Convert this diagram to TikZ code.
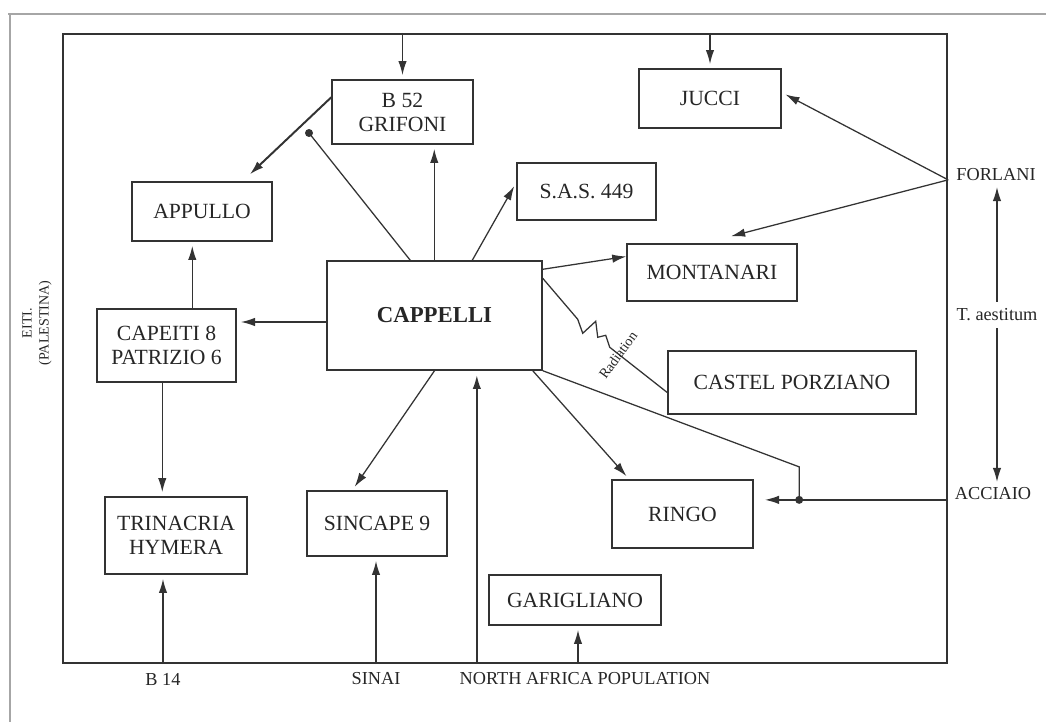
\documentclass[tikz,border=0pt]{standalone}
\usepackage{fontspec}
\setmainfont{Liberation Serif}
\usepackage{tikz}
\usetikzlibrary{calc}
\usetikzlibrary{arrows.meta}

\begin{document}
\begin{tikzpicture}[
        x=0.025cm,
        y=-0.025cm,
        >={Latex[length=10pt,width=6pt]},
        box/.style={draw=black!80, line width=1pt, align=center, inner sep=0pt, text=black!85,
            font=\fontsize{15.4}{17}\selectfont},
        lbl/.style={inner sep=1pt, text=black!85, font=\fontsize{13}{15}\selectfont},
        arr/.style={->, draw=black!80, line width=0.9pt, shorten >=3pt},
        ln/.style={draw=black!80, line width=0.9pt},
        thk/.style={line width=1.4pt}
    ]
        \useasboundingbox (0,0) rectangle (1046,722);

        % page edge
        \draw[gray!70, line width=0.8pt] (8,14) -- (1046,14) (10,14) -- (10,722);

        \node[draw=black!80, line width=1.5pt, minimum width=22.1cm, minimum height=15.725cm, inner sep=0pt] (frame) at (505,348.5) {};

        \node[box, minimum width=3.525cm, minimum height=1.6cm] (b52) at (402.5,112) {B 52\\GRIFONI};
        \node[box, minimum width=3.55cm, minimum height=1.475cm] (jucci) at (710,98.5) {JUCCI};
        \node[box, minimum width=3.5cm, minimum height=1.475cm] (appullo) at (202,211.5) {APPULLO};
        \node[box, minimum width=3.475cm, minimum height=1.425cm] (sas) at (586.5,191.5) {S.A.S. 449};
        \node[box, minimum width=4.25cm, minimum height=1.425cm] (montanari) at (712,272.5) {MONTANARI};
        \node[box, minimum width=5.375cm, minimum height=2.725cm, font=\fontsize{16.2}{18}\selectfont\bfseries] (cappelli) at (434.5,315.5) {CAPPELLI};
        \node[box, minimum width=3.475cm, minimum height=1.825cm] (capeiti) at (166.5,345.5) {CAPEITI 8\\PATRIZIO 6};
        \node[box, minimum width=6.2cm, minimum height=1.575cm] (castel) at (792,382.5) {CASTEL PORZIANO};
        \node[box, minimum width=3.55cm, minimum height=1.925cm] (trinacria) at (176,535.5) {TRINACRIA\\HYMERA};
        \node[box, minimum width=3.5cm, minimum height=1.625cm] (sincape) at (377,523.5) {SINCAPE 9};
        \node[box, minimum width=3.525cm, minimum height=1.7cm] (ringo) at (682.5,514) {RINGO};
        \node[box, minimum width=4.3cm, minimum height=1.25cm] (garigliano) at (575,600) {GARIGLIANO};

        \node[lbl] (forlani) at (996,175) {FORLANI};
        \node[lbl] (taest) at (997,315) {T. aestitum};
        \node[lbl] (acciaio) at (993,494) {ACCIAIO};
        \node[lbl] (b14) at (163,679) {B 14};
        \node[lbl] (sinai) at (376,679) {SINAI};
        \node[lbl] (napop) at (585,679) {NORTH AFRICA POPULATION};
        \node[lbl, rotate=90, align=center, font=\fontsize{10}{12}\selectfont] (eiti) at (37,323) {EITI.\\(PALESTINA)};

        \coordinate (forl) at ($(frame.north east)+(0,147)$);
        \coordinate (acc) at ($(frame.north east)+(0,467)$);
        \coordinate (dotr) at ($(acc)+(-149,0)$);
        \coordinate (bend) at ($(dotr)+(0,-33)$);
        \coordinate (dotb) at (309,133);
        \coordinate (na) at ($(frame.south west)+(415,0)$);
        \coordinate (ga) at ($(garigliano.south)+(3,0)$);

        \draw[arr] (frame.north -| b52.north) -- (b52.north);
        \draw[arr] (frame.north -| jucci.north) -- (jucci.north);

        \draw[arr, thk] ($(b52.north west)+(0,18)$) -- ($(appullo.north east)+(-26,-4)$);
        \draw[ln] ($(cappelli.north west)+(84,0)$) -- (dotb);
        \fill[black!80] (dotb) circle (4);
        \draw[arr] ($(cappelli.north west)+(108,0)$) coordinate (c1) -- (c1 |- b52.south);
        \draw[arr] ($(cappelli.north west)+(146,0)$) -- ($(sas.west)+(0,-9)$);
        \draw[arr, shorten >=0pt] ($(cappelli.north east)+(0,9)$) -- ($(montanari.west)+(0,-16)$);

        \draw[arr] ($(cappelli.west)+(0,6.5)$) coordinate (c4) -- (c4 -| capeiti.east);
        \draw[arr] ($(capeiti.north west)+(96,0)$) coordinate (c5) -- (c5 |- appullo.south);
        \draw[arr] ($(capeiti.south west)+(66,0)$) coordinate (c6) -- (c6 |- trinacria.north);
        \draw[arr] (cappelli.south) -- ($(sincape.north west)+(46,0)$);
        \draw[arr] ($(cappelli.south east)+(-10,0)$) -- ($(ringo.north west)+(18,0)$);

        \draw[arr] (b14 |- frame.south) -- (b14 |- trinacria.south);
        \draw[arr] (sinai |- frame.south) -- (sinai |- sincape.south);
        \draw[arr, thk] (na) -- (na |- cappelli.south);
        \draw[arr] (ga |- frame.south) -- (ga);

        \draw[arr] (forl) -- ($(jucci.east)+(0,-6)$);
        \draw[arr] (forl) -- ($(montanari.north)+(15,-6)$);

        \draw[ln] ($(cappelli.north east)+(0,18)$) -- ++(35,41) -- ++(5,14) -- ++(13,-12) -- ++(2,16) -- ++(8,-2) -- ++(4,12) -- ($(castel.west)+(0,10)$);
        \node[rotate=54, inner sep=0pt, text=black!85, font=\fontsize{10}{11}\selectfont] (rad) at (618,355) {Radiation};

        \draw[ln] (cappelli.south east) -- (bend) -- (dotr);
        \draw[arr, shorten >=8pt] (acc) -- (dotr) -- (dotr -| ringo.east);
        \fill[black!80] (dotr) circle (4);

        \draw[arr, shorten <=4pt] (taest.north) -- (taest.north |- forlani.south);
        \draw[arr, shorten <=4pt] (taest.south) -- (taest.south |- acciaio.north);

    \end{tikzpicture}
\end{document}
